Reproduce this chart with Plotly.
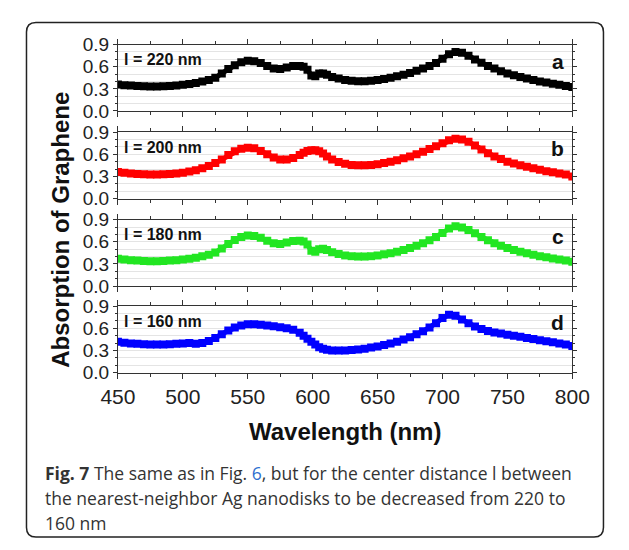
import plotly.graph_objects as go

wavelength = [450, 455, 460, 465, 470, 475, 480, 485, 490, 495, 500, 505, 510, 515, 520,
              525, 530, 535, 540, 545, 550, 555, 560, 565, 570, 575, 580, 585, 590,
              593, 596, 599, 602, 605, 608, 611,
              615, 620, 625, 630, 635, 640, 645, 650, 655, 660, 665, 670, 675, 680,
              685, 690, 695, 700, 705, 710, 715, 720, 725, 730, 735, 740, 745, 750,
              755, 760, 765, 770, 775, 780, 785, 790, 795, 800]

abs_220 = [0.36, 0.35, 0.345, 0.34, 0.335, 0.333, 0.333, 0.335, 0.34, 0.345, 0.355, 0.365, 0.38, 0.40, 0.42,
           0.45, 0.51, 0.57, 0.62, 0.66, 0.68, 0.675, 0.65, 0.61, 0.575, 0.57, 0.59, 0.61, 0.61,
           0.60, 0.56, 0.48, 0.47, 0.51, 0.51, 0.49,
           0.46, 0.44, 0.42, 0.41, 0.405, 0.405, 0.41, 0.42, 0.435, 0.45, 0.47, 0.49, 0.515, 0.545,
           0.575, 0.61, 0.65, 0.71, 0.77, 0.80, 0.79, 0.75, 0.70, 0.655, 0.61, 0.575, 0.54, 0.51,
           0.485, 0.46, 0.44, 0.42, 0.40, 0.385, 0.37, 0.355, 0.34, 0.325]

abs_200 = [0.36, 0.35, 0.34, 0.333, 0.328, 0.325, 0.325, 0.328, 0.333, 0.34, 0.35, 0.365, 0.385, 0.41, 0.44,
           0.48, 0.53, 0.59, 0.64, 0.675, 0.69, 0.68, 0.645, 0.60, 0.555, 0.53, 0.53, 0.55, 0.59,
           0.62, 0.645, 0.655, 0.655, 0.64, 0.61, 0.57,
           0.53, 0.495, 0.47, 0.455, 0.45, 0.45, 0.455, 0.465, 0.48, 0.50, 0.52, 0.545, 0.57, 0.60,
           0.635, 0.67, 0.71, 0.75, 0.79, 0.81, 0.80, 0.77, 0.72, 0.665, 0.615, 0.57, 0.535, 0.50,
           0.475, 0.45, 0.43, 0.41, 0.39, 0.37, 0.355, 0.34, 0.325, 0.30]

abs_180 = [0.37, 0.36, 0.35, 0.345, 0.34, 0.337, 0.337, 0.34, 0.345, 0.35, 0.36, 0.37, 0.385, 0.405, 0.425,
           0.455, 0.51, 0.57, 0.625, 0.665, 0.685, 0.68, 0.655, 0.615, 0.58, 0.57, 0.59, 0.61, 0.615,
           0.605, 0.565, 0.48, 0.465, 0.50, 0.505, 0.49,
           0.46, 0.435, 0.415, 0.405, 0.40, 0.40, 0.405, 0.415, 0.43, 0.445, 0.465, 0.49, 0.515, 0.545,
           0.58, 0.62, 0.665, 0.72, 0.78, 0.81, 0.795, 0.76, 0.715, 0.665, 0.62, 0.58, 0.545, 0.515,
           0.49, 0.465, 0.445, 0.425, 0.405, 0.39, 0.375, 0.36, 0.345, 0.33]

abs_160 = [0.42, 0.405, 0.395, 0.39, 0.385, 0.38, 0.38, 0.38, 0.385, 0.39, 0.395, 0.40, 0.39, 0.40, 0.43,
           0.47, 0.52, 0.57, 0.61, 0.64, 0.655, 0.655, 0.65, 0.64, 0.63, 0.615, 0.60, 0.58, 0.54,
           0.50, 0.46, 0.42, 0.38, 0.345, 0.325, 0.31,
           0.30, 0.30, 0.30, 0.305, 0.315, 0.325, 0.34, 0.355, 0.375, 0.395, 0.42, 0.45, 0.48, 0.52,
           0.56, 0.61, 0.67, 0.74, 0.785, 0.77, 0.72, 0.67, 0.625, 0.59, 0.565, 0.545, 0.53, 0.515,
           0.50, 0.485, 0.47, 0.455, 0.44, 0.425, 0.41, 0.395, 0.38, 0.36]

series = [abs_220, abs_200, abs_180, abs_160]
distance_labels = ["l = 220 nm", "l = 200 nm", "l = 180 nm", "l = 160 nm"]
panel_letters = ["a", "b", "c", "d"]
colors = ["#000000", "#ff0000", "#22e622", "#0000ff"]
x_ticks = [450, 500, 550, 600, 650, 700, 750, 800]
y_ticks = [0.0, 0.3, 0.6, 0.9]

W, H = 629, 550
x_left, x_right = 106, 588
panel_px = [(36, 105), (127, 196), (218, 287), (308, 377)]

fig = go.Figure()
FONT = "Liberation Sans, Arial, sans-serif"

for i, (vals, col) in enumerate(zip(series, colors)):
    n = i + 1
    fig.add_trace(go.Scatter(
        x=wavelength, y=vals, mode="lines+markers",
        line=dict(color=col, width=5),
        marker=dict(symbol="square", size=8, color=col, line=dict(width=0)),
        xaxis="x" if n == 1 else f"x{n}", yaxis="y" if n == 1 else f"y{n}",
        showlegend=False, hoverinfo="skip"))
    top, bot = panel_px[i]
    xa = dict(
        domain=[x_left / W, x_right / W], range=[450, 800],
        anchor="y" if n == 1 else f"y{n}",
        tickvals=x_ticks, showticklabels=(n == 4),
        ticks="outside", ticklen=5, tickwidth=1, tickcolor="#333",
        minor=dict(dtick=25, tick0=450, ticks="outside", ticklen=3, tickcolor="#333", showgrid=False),
        showline=True, linecolor="#333", linewidth=1, mirror="ticks",
        showgrid=False, zeroline=False,
        tickfont=dict(family=FONT, size=21, color="#222"))
    ya = dict(
        domain=[1 - bot / H, 1 - top / H], range=[0, 0.9],
        anchor="x" if n == 1 else f"x{n}",
        tickvals=y_ticks, ticktext=["0.0", "0.3", "0.6", "0.9"],
        ticks="outside", ticklen=4, tickwidth=1, tickcolor="#333",
        minor=dict(dtick=0.1, tick0=0, ticks="outside", ticklen=2, tickcolor="#333",
                   showgrid=True, gridcolor="#e4e4e4", gridwidth=1),
        showline=True, linecolor="#333", linewidth=1, mirror="ticks",
        showgrid=True, gridcolor="#e4e4e4", zeroline=False,
        tickfont=dict(family=FONT, size=19, color="#222"))
    fig.layout["xaxis" if n == 1 else f"xaxis{n}"] = xa
    fig.layout["yaxis" if n == 1 else f"yaxis{n}"] = ya

    xd = "x domain" if n == 1 else f"x{n} domain"
    yd = "y domain" if n == 1 else f"y{n} domain"
    fig.add_annotation(x=0.008, y=0.77, xref=xd, yref=yd, xanchor="left", yanchor="middle",
                       text=f"<b>{distance_labels[i]}</b>", showarrow=False,
                       font=dict(family=FONT, size=16, color="#111"))
    fig.add_annotation(x=0.985, y=0.75, xref=xd, yref=yd, xanchor="right", yanchor="middle",
                       text=f"<b>{panel_letters[i]}</b>", showarrow=False,
                       font=dict(family=FONT, size=21, color="#111"))

# axis titles
fig.add_annotation(x=347 / W, y=1 - 438 / H, xref="paper", yref="paper",
                   text="<b>Wavelength (nm)</b>", showarrow=False,
                   xanchor="center", yanchor="middle",
                   font=dict(family=FONT, size=24, color="#111"))
fig.add_annotation(x=45 / W, y=1 - 228 / H, xref="paper", yref="paper",
                   text="<b>Absorption of Graphene</b>", showarrow=False, textangle=-90,
                   xanchor="center", yanchor="middle",
                   font=dict(family=FONT, size=24, color="#111"))

# caption
cap_font = dict(family="Open Sans, Noto Sans, sans-serif", size=17.5, color="#333")
caption_lines = [
    "<b>Fig. 7</b> The same as in Fig. <span style='color:#2f6fd0'>6</span>, but for the center distance l between",
    "the nearest-neighbor Ag nanodisks to be decreased from 220 to",
    "160 nm",
]
for k, line in enumerate(caption_lines):
    fig.add_annotation(x=27 / W, y=1 - (481 + 26 * k) / H, xref="paper", yref="paper",
                       text=line, showarrow=False, xanchor="left", yanchor="middle",
                       font=cap_font)

# rounded border box
def px(x, y):
    return f"{x / W:.5f},{1 - y / H:.5f}"

L, R, T, B, r = 9, 621, 13, 548, 10
path = (f"M {px(L + r, T)} L {px(R - r, T)} Q {px(R, T)} {px(R, T + r)} "
        f"L {px(R, B - r)} Q {px(R, B)} {px(R - r, B)} "
        f"L {px(L + r, B)} Q {px(L, B)} {px(L, B - r)} "
        f"L {px(L, T + r)} Q {px(L, T)} {px(L + r, T)} Z")
fig.add_shape(type="path", path=path, xref="paper", yref="paper",
              line=dict(color="#222", width=1.5), fillcolor="rgba(0,0,0,0)")

fig.update_layout(width=W, height=H, margin=dict(l=0, r=0, t=0, b=0),
                  paper_bgcolor="white", plot_bgcolor="white")

fig.write_html("out.html")
